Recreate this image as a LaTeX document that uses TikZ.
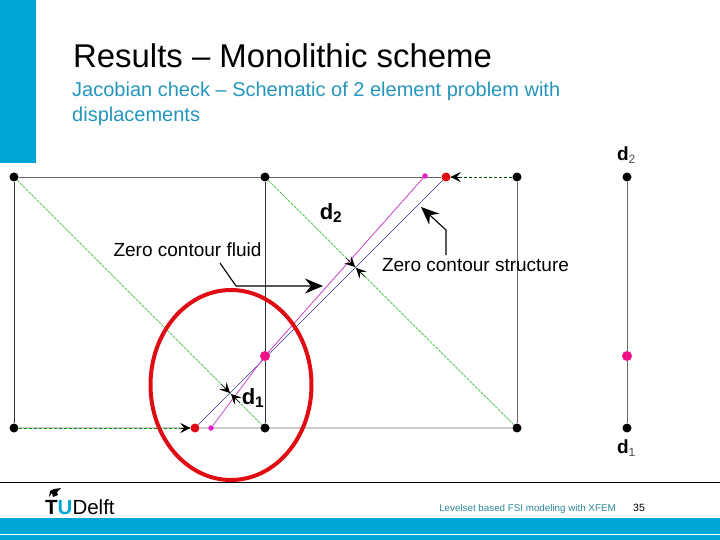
\documentclass[tikz,border=0pt]{standalone}
\usepackage{fontspec}
\setmainfont{Liberation Sans}
\usepackage{tikz}
\usetikzlibrary{arrows.meta,positioning,shapes.geometric,backgrounds}
\definecolor{tublue}{HTML}{00A6D6}
\definecolor{subblue}{HTML}{2496BE}
\definecolor{footteal}{HTML}{2F8799}
\definecolor{gridgreen}{HTML}{5CCB5C}
\definecolor{dotmag}{HTML}{E81CC8}
\definecolor{midmag}{HTML}{F0108A}
\definecolor{linemag}{HTML}{CC44CC}
\definecolor{lineblue}{HTML}{3838A0}
\definecolor{ringred}{HTML}{E00C14}

\begin{document}
\begin{tikzpicture}[x=1pt, y=-1pt,
  dot/.style={circle, fill=black, inner sep=0pt, minimum size=9pt},
  reddot/.style={circle, fill=ringred, inner sep=0pt, minimum size=9pt},
  magdot/.style={circle, fill=dotmag, inner sep=0pt, minimum size=5.5pt},
  middot/.style={circle, fill=midmag, inner sep=0pt, minimum size=10pt},
  gridline/.style={draw=black!60, line width=0.9pt},
  diag/.style={draw=gridgreen, dash pattern=on 3pt off 1pt, line width=0.9pt},
  lbl/.style={font=\fontsize{19}{22}\selectfont, inner sep=0pt},
  dlbl/.style={font=\fontsize{22}{26}\selectfont\bfseries, inner sep=0pt},
  arrow/.style={-{Stealth[length=18pt, width=15pt, inset=6pt]}, line width=1.1pt},
  tip/.style={-{Stealth[length=10pt, width=10pt, inset=4pt]}, line width=0.6pt}
]
\useasboundingbox (0, 0) rectangle (720, 540);

% Header and footer
\fill[tublue] (0, 0) rectangle (36, 163);
\fill[tublue] (0, 518) rectangle (720, 540);
\draw[white, line width=0.7pt] (0, 534.5) -- (720, 534.5);
\draw[black, line width=1.6pt] (0, 482.5) -- (720, 482.5);
\node[anchor=base west, inner sep=0pt, font=\fontsize{32.9}{38}\selectfont] (title) at (73, 68) {Results -- Monolithic scheme};
\node[anchor=base west, inner sep=0pt, text=subblue, font=\fontsize{20}{25}\selectfont] (subtitle) at (72, 97) {Jacobian check -- Schematic of 2 element problem with};
\node[anchor=base west, inner sep=0pt, text=subblue, font=\fontsize{20}{25}\selectfont] (subtitle2) at (72, 122) {displacements};

% Mesh nodes
\node[dot] (n1) at (14, 177) {};
\node[dot] (n2) at (265, 177) {};
\node[dot] (n3) at (517, 177) {};
\node[dot] (n4) at (14, 428) {};
\node[dot] (n5) at (265, 428) {};
\node[dot] (n6) at (517, 428) {};
\node[reddot] (rb) at (195, 428) {};
\node[reddot] (rt) at (446, 177) {};
\node[magdot] (mb) at (211, 428) {};
\node[magdot] (mt) at (425, 176) {};
\node[middot] (mm) at (265, 356) {};

% Mesh lines
\begin{pgfonlayer}{background}
\draw[gridline] (n1) -- (rt);
\draw[gridline, draw=black!80] (n1) -- (n4);
\draw[gridline, draw=black!80] (n2) -- (mm) -- (n5);
\draw[gridline] (n3) -- (n6);
\draw[black!20, line width=1.6pt] (rb) -- (n6);
\draw[black!20, line width=1.6pt] (n4) -- (rb);
\draw[green!60!black, densely dashed, line width=1pt] (n4) -- (rb);
\draw[green!35!black, densely dashed, line width=0.8pt] (n3) -- (rt);
\draw[diag] (n1) -- (n5);
\draw[diag] (n2) -- (n6);
% Zero contours
\draw[lineblue, line width=0.6pt] (rb) -- (rt);
\draw[linemag, line width=0.8pt] (mb) -- (mm) -- (mt);
\end{pgfonlayer}

% Small arrow tips on the contour
\coordinate (t1) at (221, 384);
\coordinate (t1e) at (230, 393);
\coordinate (t2) at (240, 403);
\coordinate (t2e) at (231, 394);
\coordinate (t3) at (346, 258);
\coordinate (t3e) at (355, 267);
\coordinate (t4) at (365, 277);
\coordinate (t4e) at (356, 268);
\draw[tip] (t1) -- (t1e);
\draw[tip] (t2) -- (t2e);
\draw[tip] (t3) -- (t3e);
\draw[tip] (t4) -- (t4e);
\coordinate (t5) at (460, 177);
\draw[tip] (t5) -- (rt);
\coordinate (t6) at (181, 428);
\draw[tip] (t6) -- (rb);

% Red ellipse
\node[ellipse, draw=ringred, line width=4pt, minimum width=161pt, minimum height=190pt, inner sep=0pt] (circ) at (231, 385) {};

% Labels and leaders
\node[lbl] (fluid) at (187.5, 250) {Zero contour fluid};
\node[lbl] (struct) at (475.5, 265) {Zero contour structure};
\node[dlbl] (d2) at (331, 213) {d$_{\mathbf 2}$};
\node[dlbl] (d1) at (253, 398) {d$_{\mathbf 1}$};
\coordinate (fa) at (220, 263);
\coordinate (fb) at (236, 286);
\coordinate (fc) at (323, 286);
\draw[arrow] (fa) -- (fb) -- (fc);
\coordinate (sa) at (446, 255);
\coordinate (sb) at (446, 230);
\coordinate (sc) at (421, 207);
\draw[arrow] (sa) -- (sb) -- (sc);

% Displacement axis
\node[dot] (a2) at (627, 177) {};
\node[middot] (am) at (627, 356) {};
\node[dot] (a1) at (627, 428) {};
\begin{pgfonlayer}{background}
\draw[gridline] (a2) -- (am) -- (a1);
\end{pgfonlayer}
\node[inner sep=0pt, font=\fontsize{19}{22}\selectfont] (ad2) at (626.5, 155) {\textbf{d}\textsubscript{\fontsize{12}{12}\selectfont\color{black!70}2}};
\node[inner sep=0pt, font=\fontsize{19}{22}\selectfont] (ad1) at (626.5, 448) {\textbf{d}\textsubscript{\fontsize{12}{12}\selectfont\color{black!70}1}};

% Footer text
\node[inner sep=0pt, text=footteal, font=\fontsize{9.8}{11}\selectfont] (foot) at (527.5, 508.5) {Levelset based FSI modeling with XFEM};
\node[inner sep=0pt, font=\fontsize{10.5}{12}\selectfont] (page) at (639, 508) {35};

% Logo
\node[anchor=base west, inner sep=0pt, font=\fontsize{20.5}{22}\selectfont] (logo) at (45, 514) {\textbf{T}\textcolor{tublue}{\textbf{U}}Delft};
\fill[black] (49, 497) -- (50, 491) -- (54, 489) -- (61, 488) -- (57, 492) -- (58, 495) -- (53, 497) -- (52, 493) -- cycle;
\end{tikzpicture}
\end{document}
